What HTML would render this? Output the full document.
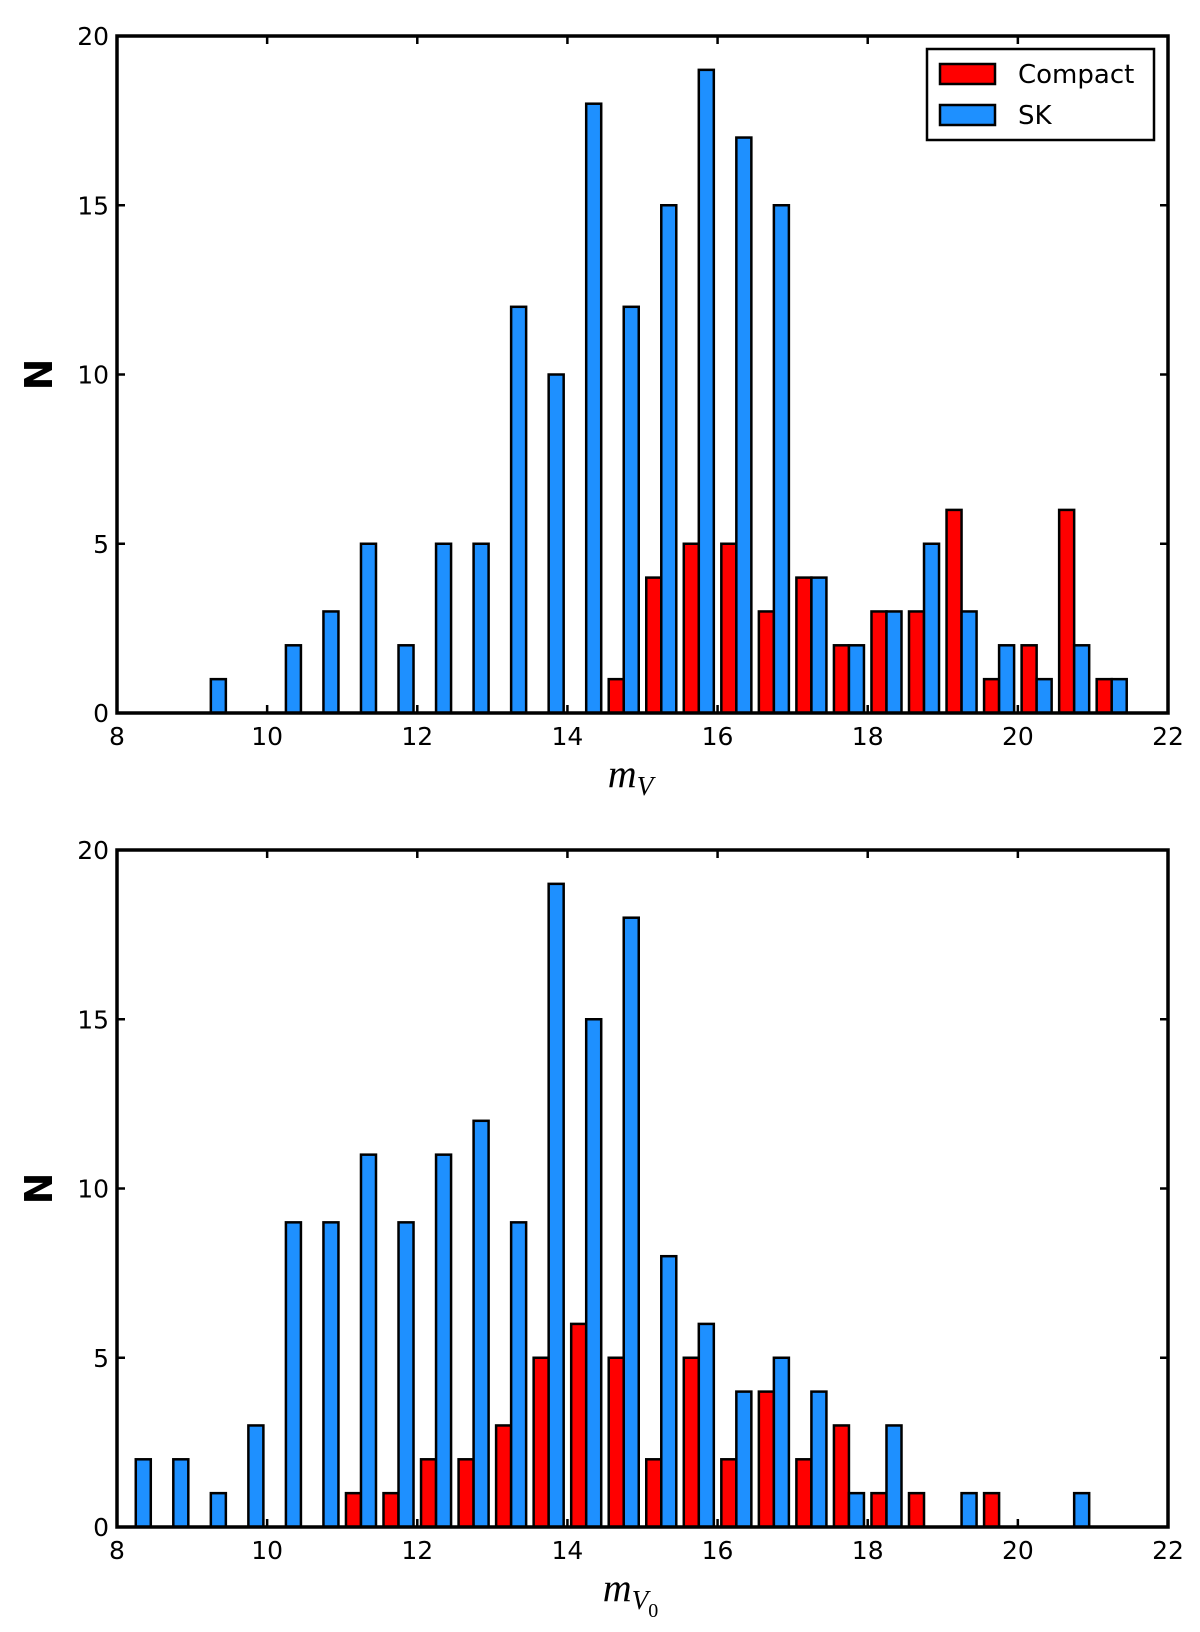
<!DOCTYPE html>
<html><head><meta charset="utf-8"><style>
body{margin:0;background:#fff}
svg{display:block;font-family:"DejaVu Sans","Liberation Sans",sans-serif}
</style></head><body>
<svg id="fig" width="1200" height="1632" viewBox="0 0 1200 1632" xmlns="http://www.w3.org/2000/svg"></svg>
<script>
// Top panel (m_V) data: bins start 8.0, width 0.5
const binStarts = [8.0,8.5,9.0,9.5,10.0,10.5,11.0,11.5,12.0,12.5,13.0,13.5,14.0,14.5,15.0,15.5,16.0,16.5,17.0,17.5,18.0,18.5,19.0,19.5,20.0,20.5,21.0];
const topSK      = [0,0,1,0,2,3,5,2,5,5,12,10,18,12,15,19,17,15,4,2,3,5,3,2,1,2,1];
const topCompact = [0,0,0,0,0,0,0,0,0,0,0,0,0,1,4,5,5,3,4,2,3,3,6,1,2,6,1];
const botSK      = [2,2,1,3,9,9,11,9,11,12,9,19,15,18,8,6,4,5,4,1,3,0,1,0,0,1,0];
const botCompact = [0,0,0,0,0,0,1,1,2,2,3,5,6,5,2,5,2,4,2,3,1,1,0,1,0,0,0];
const xTicks = [8,10,12,14,16,18,20,22];
const yTicks = [0,5,10,15,20];
const binWidth = 0.5;

const NS="http://www.w3.org/2000/svg";
const svg=document.getElementById('fig');
function mk(tag,attrs,parent){const e=document.createElementNS(NS,tag);for(const k in attrs)e.setAttribute(k,attrs[k]);(parent||svg).appendChild(e);return e;}

function panel(top,bottom,sk,compact,pname,labelSub){
  const L=117,R=1168;
  const g=mk('g',{});
  
  
  const xs=v=>L+(v-8)/14*(R-L);
  const ys=v=>bottom-v/20*(bottom-top);
  binStarts.forEach((b,i)=>{
    if(compact[i]>0){
      const r=mk('rect',{x:xs(b+0.1*binWidth),y:ys(compact[i]),width:xs(b+0.5*binWidth)-xs(b+0.1*binWidth),height:ys(0)-ys(compact[i]),fill:'#ff0000',stroke:'#000','stroke-width':2.5},g);
      
      
    }
    if(sk[i]>0){
      const r=mk('rect',{x:xs(b+0.5*binWidth),y:ys(sk[i]),width:xs(b+0.9*binWidth)-xs(b+0.5*binWidth),height:ys(0)-ys(sk[i]),fill:'#1e90ff',stroke:'#000','stroke-width':2.5},g);
      
      
    }
  });
  xTicks.forEach(t=>{
    const x=xs(t);
    mk('line',{x1:x,x2:x,y1:bottom,y2:bottom-8,stroke:'#000','stroke-width':2.5},g);
    mk('line',{x1:x,x2:x,y1:top,y2:top+8,stroke:'#000','stroke-width':2.5},g);
    const tx=mk('text',{x:x,y:bottom+32,'font-size':25,'text-anchor':'middle'},g);
    tx.textContent=t;
    
    
  });
  yTicks.forEach(t=>{
    const y=ys(t);
    mk('line',{x1:L,x2:L+8,y1:y,y2:y,stroke:'#000','stroke-width':2.5},g);
    mk('line',{x1:R,x2:R-8,y1:y,y2:y,stroke:'#000','stroke-width':2.5},g);
    const tx=mk('text',{x:L-8,y:y+9,'font-size':25,'text-anchor':'end'},g);
    tx.textContent=t;
    
    
  });
  const fr=mk('rect',{x:L,y:top,width:R-L,height:bottom-top,fill:'none',stroke:'#000','stroke-width':3.5},g);
  
  
  const yl=mk('text',{x:0,y:0,'font-size':38,'font-weight':'bold','text-anchor':'middle',transform:`translate(52,${(top+bottom)/2}) rotate(-90)`},g);
  yl.textContent='N';
  
  
  const xl=mk('text',{x:(L+R)/2-12,y:bottom+74,'font-size':40,'font-style':'italic','font-family':'"Liberation Serif",serif','text-anchor':'middle'},g);
  
  
  const m=mk('tspan',{},xl);m.textContent='m';
  const v=mk('tspan',{'font-size':27,dy:8},xl);v.textContent='V';
  if(labelSub){const s=mk('tspan',{'font-size':20,dy:8,'font-style':'normal'},xl);s.textContent='0';}
  return g;
}
panel(36,713,topSK,topCompact,'top-histogram-mv',false);
panel(850,1527,botSK,botCompact,'bottom-histogram-mv0',true);

// legend
const lg=mk('g',{});


mk('rect',{x:927,y:49,width:227,height:91,fill:'#fff',stroke:'#000','stroke-width':2.5},lg);
mk('rect',{x:940,y:64,width:55,height:20,fill:'#ff0000',stroke:'#000','stroke-width':2.5},lg);
mk('rect',{x:940,y:105,width:55,height:20,fill:'#1e90ff',stroke:'#000','stroke-width':2.5},lg);
const t1=mk('text',{x:1018,y:83,'font-size':26},lg);t1.textContent='Compact';


const t2=mk('text',{x:1018,y:124,'font-size':26},lg);t2.textContent='SK';


</script>
</body></html>
